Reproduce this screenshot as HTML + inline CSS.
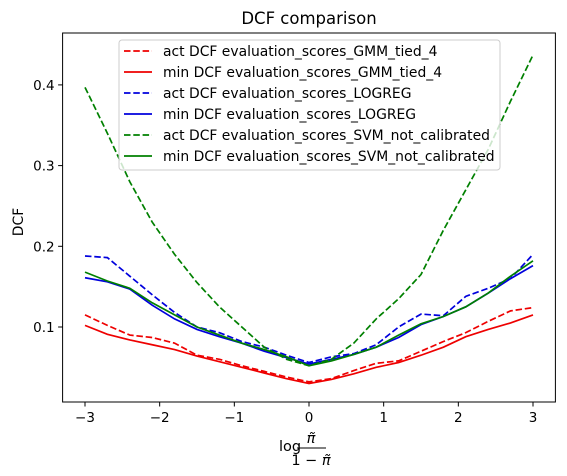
<!DOCTYPE html>
<html><head><meta charset="utf-8"><style>
body{margin:0;background:#fff;width:567px;height:472px;overflow:hidden;font-family:"DejaVu Sans","Liberation Sans",sans-serif;}
svg text{font-family:"DejaVu Sans","Liberation Sans",sans-serif;}
</style></head><body>
<svg id="chart" width="567" height="472" xmlns="http://www.w3.org/2000/svg">
<text x="309" y="24" font-size="16.5" text-anchor="middle">DCF comparison</text>
<g id="plot"></g>
<text transform="translate(23,222) rotate(-90)" font-size="13.9" text-anchor="middle">DCF</text>
<g font-size="14.5">
<text x="279" y="451">log</text>
<text x="311" y="443" text-anchor="middle" font-style="italic">π̃</text>
<line x1="297" y1="448" x2="326" y2="448" stroke="#000" stroke-width="1"/>
<text x="311" y="465" text-anchor="middle">1 − <tspan font-style="italic">π̃</tspan></text>
</g>
<g id="legend"></g>
</svg>
<script>
const xs=[-3,-2.7,-2.4,-2.1,-1.8,-1.5,-1.2,-0.9,-0.6,-0.3,0,0.3,0.6,0.9,1.2,1.5,1.8,2.1,2.4,2.7,3];
const gmmAct=[0.115,0.102,0.09,0.087,0.08,0.065,0.06,0.052,0.045,0.038,0.032,0.036,0.046,0.055,0.058,0.07,0.082,0.093,0.107,0.12,0.124];
const gmmMin=[0.102,0.091,0.084,0.078,0.072,0.064,0.057,0.05,0.043,0.036,0.03,0.035,0.042,0.05,0.056,0.065,0.075,0.088,0.097,0.105,0.115];
const lrAct=[0.188,0.186,0.163,0.14,0.118,0.1,0.093,0.082,0.075,0.065,0.056,0.063,0.067,0.078,0.1,0.116,0.114,0.138,0.148,0.16,0.19];
const lrMin=[0.161,0.156,0.147,0.127,0.11,0.097,0.088,0.08,0.07,0.062,0.054,0.06,0.066,0.075,0.087,0.103,0.113,0.125,0.142,0.16,0.176];
const svmAct=[0.397,0.34,0.28,0.23,0.19,0.155,0.125,0.1,0.075,0.06,0.052,0.06,0.08,0.11,0.135,0.165,0.22,0.27,0.32,0.38,0.437];
const svmMin=[0.168,0.157,0.148,0.13,0.115,0.1,0.09,0.08,0.072,0.063,0.052,0.058,0.066,0.075,0.09,0.104,0.113,0.125,0.142,0.163,0.182];
const xTicks=[-3,-2,-1,0,1,2,3];
const xTickLabels=["−3","−2","−1","0","1","2","3"];
const yTicks=[0.1,0.2,0.3,0.4];
const yTickLabels=["0.1","0.2","0.3","0.4"];
const seriesNames=["act DCF evaluation_scores_GMM_tied_4","min DCF evaluation_scores_GMM_tied_4","act DCF evaluation_scores_LOGREG","min DCF evaluation_scores_LOGREG","act DCF evaluation_scores_SVM_not_calibrated","min DCF evaluation_scores_SVM_not_calibrated"];
const L=62.6,R=555.4,T=33,B=402;
const X=v=>L+(v+3.3)/6.6*(R-L);
const Y=v=>327-(v-0.1)*807;
const NS="http://www.w3.org/2000/svg";
const plot=document.getElementById('plot');
function mk(tag,attrs,parent){const e=document.createElementNS(NS,tag);for(const k in attrs)e.setAttribute(k,attrs[k]);parent.appendChild(e);return e;}
const series=[[gmmAct,'#ee0000',true],[gmmMin,'#ee0000',false],[lrAct,'#0000dd',true],[lrMin,'#0000dd',false],[svmAct,'#008000',true],[svmMin,'#008000',false]];
series.forEach((s,i)=>{
 const p=mk('polyline',{points:s[0].map((v,j)=>X(xs[j])+','+Y(v)).join(' '),fill:'none',stroke:s[1],'stroke-width':1.7,'stroke-dasharray':s[2]?'6.5,2.8':'none'},plot);
 
 
});
const fr=mk('rect',{x:L,y:T,width:R-L,height:B-T,fill:'none',stroke:'#000','stroke-width':1},plot);


xTicks.forEach((t,i)=>{
 mk('line',{x1:X(t),x2:X(t),y1:B,y2:B+4.5,stroke:'#000'},plot);
 const tx=mk('text',{x:X(t),y:B+20,'font-size':13.5,'text-anchor':'middle'},plot);tx.textContent=xTickLabels[i];
 
 
});
yTicks.forEach((t,i)=>{
 mk('line',{x1:L-4.5,x2:L,y1:Y(t),y2:Y(t),stroke:'#000'},plot);
 const tx=mk('text',{x:L-8,y:Y(t)+5,'font-size':13.5,'text-anchor':'end'},plot);tx.textContent=yTickLabels[i];
 
 
});
const lg=document.getElementById('legend');
mk('rect',{x:119,y:40,width:381,height:130,rx:3,fill:'#fff','fill-opacity':0.8,stroke:'#ccc'},lg);
seriesNames.forEach((n,i)=>{
 const y=51+i*21;
 mk('line',{x1:124,x2:152,y1:y,y2:y,stroke:series[i][1],'stroke-width':1.7,'stroke-dasharray':series[i][2]?'6.5,2.8':'none'},lg);
 const tx=mk('text',{x:163,y:y+5,'font-size':13.9},lg);tx.textContent=n;
 
 
});
</script>
</body></html>
